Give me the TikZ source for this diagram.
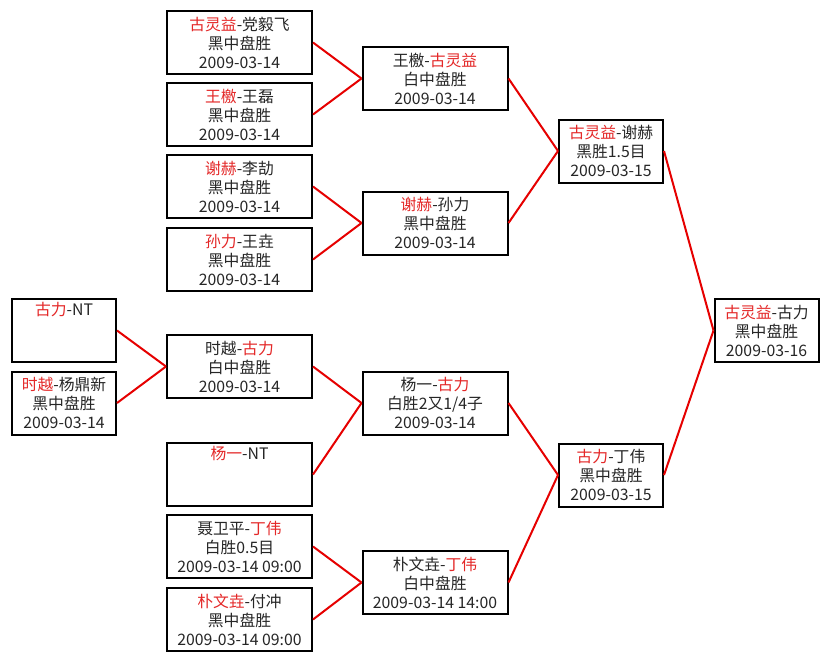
\documentclass[tikz,border=0pt]{standalone}
\usepackage{fontspec}
\setmainfont{Noto Sans CJK SC}
\definecolor{wred}{RGB}{228,40,40}
\definecolor{lred}{RGB}{230,0,0}
\newcommand{\R}[1]{\textcolor{wred}{#1}}
\begin{document}
\begin{tikzpicture}[x=1pt,y=-1pt,
  game/.style={draw=black, line width=2pt, rectangle, inner sep=0pt,
    minimum height=63pt, align=center, text=black!85,
    font=\fontsize{15.8}{19}\selectfont},
  narrow/.style={game, minimum width=104pt},
  wide/.style={game, minimum width=145pt},
  link/.style={draw=lred, line width=2pt}]
\useasboundingbox[fill=white] (0,0) rectangle (830,661);
% column 1
\node[narrow] (a1) at (64,330.5) {\R{古力}-NT\\\strut\\\strut};
\node[narrow] (a2) at (64,403) {\R{时越}-杨鼎新\\黑中盘胜\\2009-03-14};
% column 2
\node[wide] (b1) at (239.5,42.5) {\R{古灵益}-党毅飞\\黑中盘胜\\2009-03-14};
\node[wide] (b2) at (239.5,114.5) {\R{王檄}-王磊\\黑中盘胜\\2009-03-14};
\node[wide] (b3) at (239.5,186.5) {\R{谢赫}-李劼\\黑中盘胜\\2009-03-14};
\node[wide] (b4) at (239.5,259.5) {\R{孙力}-王垚\\黑中盘胜\\2009-03-14};
\node[wide] (b5) at (239.5,366.5) {时越-\R{古力}\\白中盘胜\\2009-03-14};
\node[wide] (b6) at (239.5,474.5) {\R{杨一}-NT\\\strut\\\strut};
\node[wide] (b7) at (239.5,546.5) {聂卫平-\R{丁伟}\\白胜0.5目\\2009-03-14 09:00};
\node[wide] (b8) at (239.5,619.5) {\R{朴文垚}-付冲\\黑中盘胜\\2009-03-14 09:00};
% column 3
\node[wide] (c1) at (435,78.5) {王檄-\R{古灵益}\\白中盘胜\\2009-03-14};
\node[wide] (c2) at (435,223) {\R{谢赫}-孙力\\黑中盘胜\\2009-03-14};
\node[wide] (c3) at (435,403) {杨一-\R{古力}\\白胜2又1/4子\\2009-03-14};
\node[wide] (c4) at (435,582.5) {朴文垚-\R{丁伟}\\白中盘胜\\2009-03-14 14:00};
% column 4
\node[narrow] (d1) at (611,151) {\R{古灵益}-谢赫\\黑胜1.5目\\2009-03-15};
\node[narrow] (d2) at (611,475) {\R{古力}-丁伟\\黑中盘胜\\2009-03-15};
% column 5
\node[narrow] (e1) at (766.5,330.5) {\R{古灵益}-古力\\黑中盘胜\\2009-03-16};
% connectors
\draw[link] (a1.east) -- (b5.west);
\draw[link] (a2.east) -- (b5.west);
\draw[link] (b1.east) -- (c1.west);
\draw[link] (b2.east) -- (c1.west);
\draw[link] (b3.east) -- (c2.west);
\draw[link] (b4.east) -- (c2.west);
\draw[link] (b5.east) -- (c3.west);
\draw[link] (b6.east) -- (c3.west);
\draw[link] (b7.east) -- (c4.west);
\draw[link] (b8.east) -- (c4.west);
\draw[link] (c1.east) -- (d1.west);
\draw[link] (c2.east) -- (d1.west);
\draw[link] (c3.east) -- (d2.west);
\draw[link] (c4.east) -- (d2.west);
\draw[link] (d1.east) -- (e1.west);
\draw[link] (d2.east) -- (e1.west);
\end{tikzpicture}
\end{document}
